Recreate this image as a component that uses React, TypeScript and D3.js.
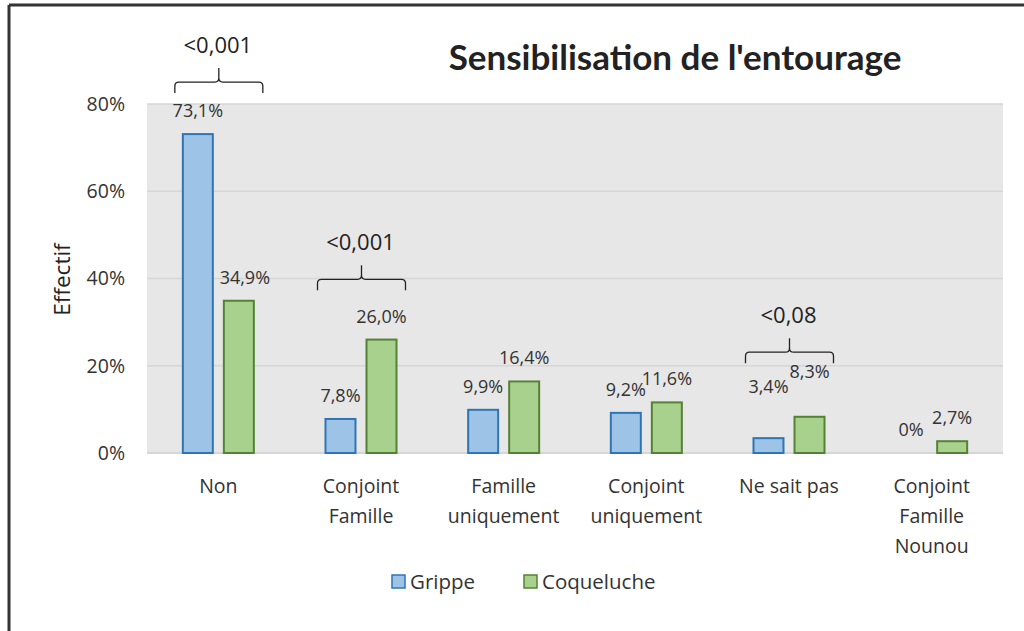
import React from "react";
import * as d3 from "d3";

const categories = [
  ["Non"],
  ["Conjoint", "Famille"],
  ["Famille", "uniquement"],
  ["Conjoint", "uniquement"],
  ["Ne sait pas"],
  ["Conjoint", "Famille", "Nounou"],
];
const grippe = [73.1, 7.8, 9.9, 9.2, 3.4, 0];
const coqueluche = [34.9, 26.0, 16.4, 11.6, 8.3, 2.7];
const grippeLabels = ["73,1%", "7,8%", "9,9%", "9,2%", "3,4%", "0%"];
const coquelucheLabels = ["34,9%", "26,0%", "16,4%", "11,6%", "8,3%", "2,7%"];
const yTicks = [0, 20, 40, 60, 80];

// p-value brackets: category index, text, level (in % units) of bracket feet
const pCats = [0, 1, 4];
const pTexts = ["<0,001", "<0,001", "<0,08"];
const pLevels = [82.5, 37.3, 20.6];

const series = [
  { name: "Grippe", values: grippe, labels: grippeLabels, fill: "#9dc3e6", stroke: "#2e75b6" },
  { name: "Coqueluche", values: coqueluche, labels: coquelucheLabels, fill: "#a9d18e", stroke: "#548235" },
];

const W = 1024;
const H = 631;
const plot = { left: 147, right: 1003, top: 104, bottom: 453 };
const font = "'Open Sans', sans-serif";
const textColor = "#333333";

export default function App() {
  const x0 = d3
    .scaleBand<number>()
    .domain(d3.range(categories.length))
    .range([plot.left, plot.right]);
  const groupW = 73;
  const x1 = d3
    .scaleBand<string>()
    .domain(series.map((s) => s.name))
    .range([0, groupW])
    .paddingInner(0.22);
  const y = d3.scaleLinear().domain([0, 80]).range([plot.bottom, plot.top]);

  const groupStart = (i: number) =>
    (x0(i) as number) + x0.bandwidth() / 2 - groupW / 2;

  // label lift above the bar top; "Ne sait pas" labels sit higher in the original
  const labelLift = (s: string, ci: number) => {
    if (ci === 4) return s === "Grippe" ? 45 : 39;
    return 17;
  };

  return (
    <svg
      width={W}
      height={H}
      style={{ position: "absolute", left: 0, top: 0, background: "#fff" }}
      fontFamily={font}
    >
      <rect x={0} y={0} width={W} height={H} fill="#fff" />
      {/* frame (top and left edges) */}
      <line x1={9} y1={5} x2={W} y2={5} stroke="#333" strokeWidth={3} />
      <line x1={9} y1={5} x2={9} y2={H} stroke="#333" strokeWidth={3} />

      {/* plot background */}
      <rect
        x={plot.left}
        y={plot.top}
        width={plot.right - plot.left}
        height={plot.bottom - plot.top}
        fill="#e7e7e7"
      />
      {yTicks.map((t) => (
        <g key={t}>
          <line
            x1={plot.left}
            x2={plot.right}
            y1={y(t)}
            y2={y(t)}
            stroke="#d6d6d6"
            strokeWidth={t === 0 ? 2 : 1.5}
          />
          <text
            x={125}
            y={y(t)}
            dy="0.35em"
            textAnchor="end"
            fontSize={19.5}
            fill={textColor}
          >
            {t}%
          </text>
        </g>
      ))}

      {/* bars */}
      {series.map((s) =>
        s.values.map((v, i) =>
          v > 0 ? (
            <rect
              key={s.name + i}
              x={groupStart(i) + (x1(s.name) as number) + 1}
              y={y(v)}
              width={x1.bandwidth() - 2}
              height={y(0) - y(v)}
              fill={s.fill}
              stroke={s.stroke}
              strokeWidth={2}
            />
          ) : null
        )
      )}

      {/* value labels */}
      {series.map((s) =>
        s.values.map((v, i) => (
          <text
            key={"l" + s.name + i}
            x={groupStart(i) + (x1(s.name) as number) + x1.bandwidth() / 2 + (s.name === "Coqueluche" && i === 0 ? 6 : 0)}
            y={y(v) - labelLift(s.name, i)}
            textAnchor="middle"
            fontSize={18}
            fill={textColor}
          >
            {s.labels[i]}
          </text>
        ))
      )}

      {/* category labels */}
      {categories.map((lines, i) => (
        <text
          key={"c" + i}
          x={(x0(i) as number) + x0.bandwidth() / 2}
          y={493}
          textAnchor="middle"
          fontSize={19.5}
          fill={textColor}
        >
          {lines.map((l, k) => (
            <tspan key={k} x={(x0(i) as number) + x0.bandwidth() / 2} dy={k === 0 ? 0 : 30}>
              {l}
            </tspan>
          ))}
        </text>
      ))}

      {/* p-value brackets */}
      {pCats.map((ci, k) => {
        const cx = (x0(ci) as number) + x0.bandwidth() / 2 + 0.5;
        const half = 44;
        const yb = y(pLevels[k]);
        const ym = yb - 11;
        const yt = yb - 25;
        const r = 4;
        const d = [
          `M${cx - half},${yb}`,
          `L${cx - half},${ym + r}`,
          `Q${cx - half},${ym} ${cx - half + r},${ym}`,
          `L${cx - r},${ym}`,
          `Q${cx},${ym} ${cx},${ym - r}`,
          `L${cx},${yt}`,
          `M${cx},${ym - r}`,
          `Q${cx},${ym} ${cx + r},${ym}`,
          `L${cx + half - r},${ym}`,
          `Q${cx + half},${ym} ${cx + half},${ym + r}`,
          `L${cx + half},${yb}`,
        ].join(" ");
        return (
          <g key={"p" + k}>
            <path d={d} fill="none" stroke="#222" strokeWidth={1.3} />
            <text
              x={cx - 1}
              y={yb - 48}
              dy="0.35em"
              textAnchor="middle"
              fontSize={22}
              fill="#222"
            >
              {pTexts[k]}
            </text>
          </g>
        );
      })}

      {/* title */}
      <text
        x={675}
        y={58}
        dy="0.35em"
        textAnchor="middle"
        fontSize={35}
        fontWeight="bold"
        fontFamily="Lato, sans-serif"
        fill="#222"
      >
        Sensibilisation de l'entourage
      </text>

      {/* y axis title */}
      <text
        transform={`translate(62,${(plot.top + plot.bottom) / 2 + 1}) rotate(-90)`}
        textAnchor="middle"
        dy="0.35em"
        fontSize={22.5}
        fill="#222"
      >
        Effectif
      </text>

      {/* legend */}
      {series.map((s, k) => {
        const lx = k === 0 ? 392 : 524;
        return (
          <g key={"lg" + k}>
            <rect x={lx} y={575} width={13} height={13} fill={s.fill} stroke={s.stroke} strokeWidth={1.5} />
            <text x={lx + 18} y={582} dy="0.35em" fontSize={20.5} fill={textColor}>
              {s.name}
            </text>
          </g>
        );
      })}
    </svg>
  );
}
